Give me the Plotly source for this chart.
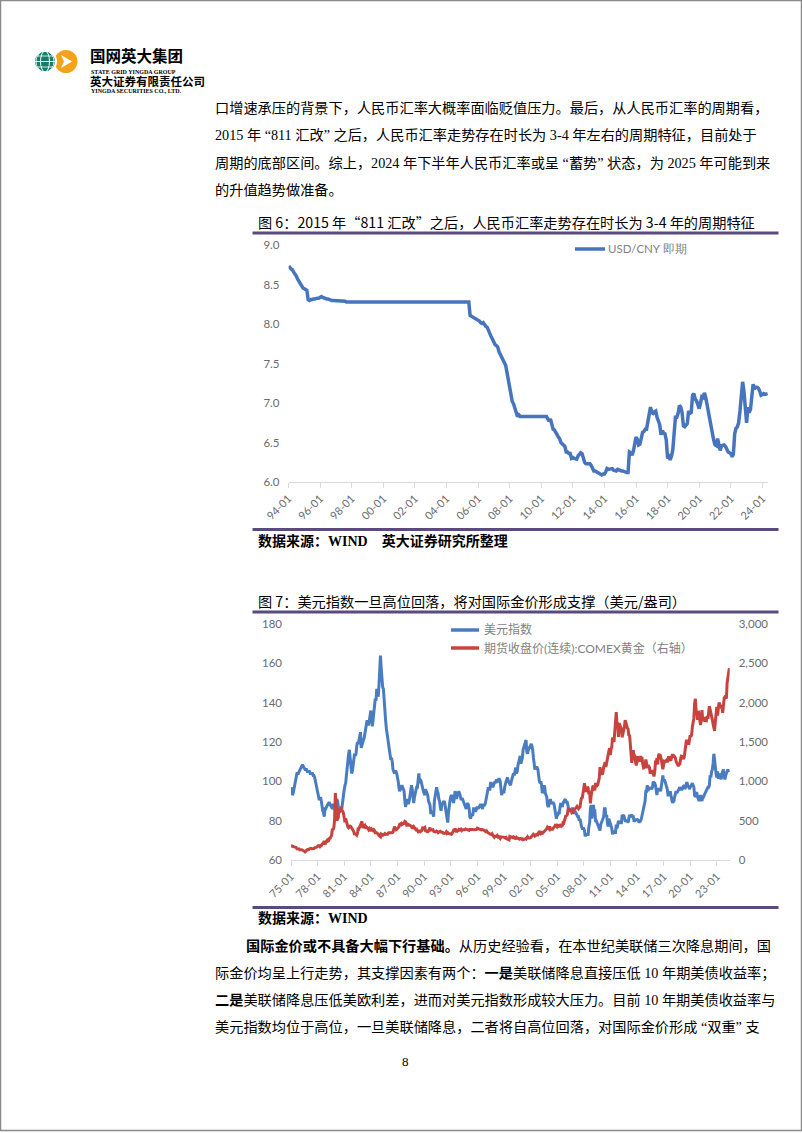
import plotly.graph_objects as go
import pandas as pd

W, H = 802, 1133

# ---------------- data ----------------
usdcny_start = "1994-01-01"
usdcny = [
    8.71, 8.72, 8.70, 8.69, 8.66, 8.64, 8.61, 8.57, 8.54, 8.52, 8.48, 8.46,  # 1994
    8.45, 8.44, 8.43, 8.31, 8.30, 8.31, 8.32, 8.32, 8.32, 8.33, 8.33, 8.33,  # 1995
    8.34, 8.35, 8.34, 8.33, 8.33, 8.32, 8.32, 8.31, 8.31, 8.30, 8.30, 8.30,  # 1996
    8.30, 8.29, 8.29, 8.29, 8.29, 8.29, 8.29, 8.29, 8.28, 8.28, 8.28, 8.28,  # 1997
    8.28, 8.28, 8.28, 8.28, 8.28, 8.28, 8.28, 8.28, 8.28, 8.28, 8.28, 8.28,  # 1998
    8.28, 8.28, 8.28, 8.28, 8.28, 8.28, 8.28, 8.28, 8.28, 8.28, 8.28, 8.28,  # 1999
    8.28, 8.28, 8.28, 8.28, 8.28, 8.28, 8.28, 8.28, 8.28, 8.28, 8.28, 8.28,  # 2000
    8.28, 8.28, 8.28, 8.28, 8.28, 8.28, 8.28, 8.28, 8.28, 8.28, 8.28, 8.28,  # 2001
    8.28, 8.28, 8.28, 8.28, 8.28, 8.28, 8.28, 8.28, 8.28, 8.28, 8.28, 8.28,  # 2002
    8.28, 8.28, 8.28, 8.28, 8.28, 8.28, 8.28, 8.28, 8.28, 8.28, 8.28, 8.28,  # 2003
    8.28, 8.28, 8.28, 8.28, 8.28, 8.28, 8.28, 8.28, 8.28, 8.28, 8.28, 8.28,  # 2004
    8.28, 8.28, 8.28, 8.28, 8.28, 8.28, 8.11, 8.10, 8.09, 8.08, 8.08, 8.07,  # 2005
    8.05, 8.04, 8.02, 8.01, 8.02, 7.99, 7.97, 7.96, 7.91, 7.88, 7.84, 7.81,  # 2006
    7.77, 7.74, 7.73, 7.71, 7.65, 7.62, 7.57, 7.56, 7.51, 7.48, 7.39, 7.30,  # 2007
    7.20, 7.12, 7.02, 6.99, 6.94, 6.86, 6.83, 6.85, 6.83, 6.83, 6.83, 6.84,  # 2008
    6.84, 6.84, 6.84, 6.83, 6.83, 6.83, 6.83, 6.83, 6.83, 6.83, 6.83, 6.83,  # 2009
    6.83, 6.83, 6.83, 6.83, 6.83, 6.80, 6.77, 6.80, 6.70, 6.67, 6.66, 6.62,  # 2010
    6.60, 6.57, 6.55, 6.50, 6.48, 6.47, 6.45, 6.38, 6.38, 6.36, 6.36, 6.30,  # 2011
    6.31, 6.30, 6.30, 6.29, 6.33, 6.36, 6.37, 6.36, 6.28, 6.25, 6.23, 6.23,  # 2012
    6.22, 6.23, 6.21, 6.17, 6.14, 6.14, 6.13, 6.12, 6.12, 6.10, 6.09, 6.10,  # 2013
    6.10, 6.13, 6.17, 6.16, 6.16, 6.16, 6.17, 6.15, 6.15, 6.14, 6.16, 6.15,  # 2014
    6.15, 6.14, 6.14, 6.13, 6.13, 6.12, 6.12, 6.38, 6.37, 6.34, 6.39, 6.48,  # 2015
    6.57, 6.54, 6.47, 6.48, 6.57, 6.63, 6.64, 6.67, 6.67, 6.77, 6.89, 6.95,  # 2016
    6.88, 6.87, 6.89, 6.90, 6.82, 6.78, 6.73, 6.60, 6.65, 6.62, 6.61, 6.53,  # 2017
    6.30, 6.32, 6.28, 6.33, 6.41, 6.62, 6.82, 6.82, 6.87, 6.97, 6.95, 6.88,  # 2018
    6.71, 6.70, 6.72, 6.74, 6.90, 6.87, 6.88, 7.10, 7.12, 7.05, 7.03, 6.97,  # 2019
    6.93, 7.00, 7.08, 7.07, 7.13, 7.07, 6.98, 6.86, 6.80, 6.69, 6.58, 6.53,  # 2020
    6.47, 6.46, 6.55, 6.48, 6.40, 6.46, 6.47, 6.47, 6.45, 6.40, 6.38, 6.37,  # 2021
    6.36, 6.32, 6.35, 6.61, 6.68, 6.70, 6.75, 6.90, 7.10, 7.27, 7.15, 6.90,  # 2022
    6.75, 6.95, 6.88, 6.92, 7.10, 7.24, 7.18, 7.20, 7.20, 7.19, 7.15, 7.10,  # 2023
    7.11, 7.12, 7.11, 7.12, 7.12,                                            # 2024
]

dxy_gold_start = "1975-01-01"
dxy = [
    97, 95, 93, 94, 96, 98, 101, 103, 104, 104, 104, 105,      # 1975
    106, 107, 107, 108, 108, 107, 107, 106, 106, 106, 105, 105,  # 1976
    105, 105, 104, 104, 104, 104, 103, 103, 102, 100, 99, 97,  # 1977
    94, 93, 91, 91, 92, 90, 87, 85, 84, 82, 86, 86,            # 1978
    87, 88, 88, 89, 89, 88, 87, 86, 86, 88, 88, 86,            # 1979
    85, 87, 91, 90, 86, 84, 85, 85, 85, 87, 91, 94,            # 1980
    96, 98, 99, 103, 108, 111, 114, 116, 110, 107, 104, 105,   # 1981
    108, 111, 114, 113, 114, 118, 120, 119, 121, 124, 125, 117,  # 1982
    119, 120, 121, 122, 124, 126, 128, 131, 129, 129, 131, 134,  # 1983
    136, 131, 128, 131, 135, 137, 142, 141, 147, 146, 143, 149,  # 1984
    155, 164, 158, 150, 148, 147, 140, 138, 131, 127, 124, 122,  # 1985
    120, 116, 113, 111, 112, 110, 106, 104, 104, 105, 105, 104,  # 1986
    100, 100, 97, 95, 96, 97, 98, 97, 96, 95, 90, 87,          # 1987
    89, 91, 89, 89, 90, 93, 96, 98, 96, 93, 89, 92,            # 1988
    94, 94, 97, 97, 102, 104, 99, 101, 100, 98, 97, 95,        # 1989
    94, 93, 96, 95, 94, 93, 90, 89, 88, 84, 84, 85,            # 1990
    83, 82, 90, 92, 94, 97, 95, 94, 91, 90, 87, 85,            # 1991
    88, 89, 90, 90, 89, 86, 83, 80, 79, 84, 89, 90,            # 1992
    92, 93, 92, 89, 89, 92, 95, 94, 91, 93, 94, 95,            # 1993
    94, 92, 91, 91, 91, 90, 89, 89, 88, 86, 88, 89,            # 1994
    88, 86, 82, 81, 83, 83, 83, 86, 86, 85, 85, 86,            # 1995
    87, 86, 87, 88, 88, 88, 86, 86, 88, 88, 88, 89,            # 1996
    91, 94, 95, 97, 96, 96, 99, 99, 98, 97, 98, 100,           # 1997
    100, 99, 101, 100, 100, 101, 101, 100, 96, 93, 95, 94,     # 1998
    94, 97, 99, 100, 101, 102, 100, 99, 98, 98, 100, 101,      # 1999
    102, 104, 103, 106, 107, 104, 105, 108, 110, 113, 113, 109,  # 2000
    111, 112, 116, 117, 119, 120, 121, 115, 114, 116, 117, 117,  # 2001
    119, 119, 118, 116, 112, 108, 106, 107, 107, 107, 106, 102,  # 2002
    100, 99, 100, 98, 94, 95, 96, 98, 94, 93, 92, 88,          # 2003
    87, 88, 89, 91, 89, 89, 89, 89, 88, 86, 83, 81,            # 2004
    83, 83, 84, 84, 87, 89, 88, 87, 89, 90, 91, 91,            # 2005
    89, 90, 89, 86, 85, 86, 85, 85, 86, 86, 84, 84,            # 2006
    85, 84, 83, 82, 82, 82, 80, 81, 78, 77, 76, 76,            # 2007
    76, 75, 72, 73, 73, 73, 73, 77, 79, 86, 88, 81,            # 2008
    86, 88, 85, 85, 80, 80, 79, 78, 77, 76, 75, 78,            # 2009
    79, 80, 81, 82, 86, 86, 82, 83, 79, 77, 81, 80,            # 2010
    78, 77, 76, 73, 75, 74, 74, 74, 78, 76, 78, 80,            # 2011
    79, 79, 79, 79, 83, 82, 83, 81, 80, 80, 80, 80,            # 2012
    79, 82, 83, 82, 83, 83, 82, 82, 80, 80, 81, 80,            # 2013
    81, 80, 80, 79, 80, 80, 81, 83, 86, 87, 88, 90,            # 2014
    95, 95, 98, 95, 97, 96, 97, 96, 96, 97, 100, 99,           # 2015
    99, 98, 95, 93, 96, 96, 96, 96, 95, 98, 101, 103,          # 2016
    100, 101, 100, 99, 97, 96, 93, 93, 93, 95, 93, 92,         # 2017
    89, 90, 90, 92, 94, 95, 94, 95, 95, 97, 97, 96,            # 2018
    96, 96, 97, 98, 98, 96, 98, 99, 99, 97, 98, 96,            # 2019
    97, 98, 99, 99, 98, 97, 93, 92, 94, 94, 92, 90,            # 2020
    90, 91, 93, 91, 90, 92, 92, 93, 94, 94, 96, 96,            # 2021
    97, 97, 98, 103, 102, 105, 106, 109, 114, 111, 106, 104,   # 2022
    102, 105, 102, 102, 104, 103, 101, 104, 106, 106, 103, 101,  # 2023
    103, 104, 104, 106, 105, 106,                              # 2024
]

gold = [
    178, 180, 178, 170, 166, 165, 165, 160, 142, 143, 139, 140,  # 1975
    130, 133, 129, 128, 126, 124, 113, 104, 116, 123, 131, 134,  # 1976
    132, 142, 149, 148, 144, 142, 145, 146, 154, 162, 161, 165,  # 1977
    175, 182, 180, 170, 184, 183, 200, 208, 217, 243, 198, 226,  # 1978
    233, 251, 240, 245, 275, 278, 295, 315, 397, 382, 415, 512,  # 1979
    850, 640, 500, 520, 540, 650, 615, 630, 680, 630, 620, 590,  # 1980
    500, 480, 530, 480, 475, 420, 410, 425, 430, 425, 410, 400,  # 1981
    385, 360, 320, 340, 325, 315, 340, 410, 400, 420, 440, 450,  # 1982
    490, 410, 415, 430, 440, 415, 420, 415, 400, 385, 400, 385,  # 1983
    370, 395, 390, 375, 385, 375, 345, 345, 345, 335, 330, 310,  # 1984
    305, 295, 330, 320, 315, 318, 325, 335, 325, 325, 325, 330,  # 1985
    345, 340, 345, 345, 345, 345, 355, 385, 425, 400, 385, 390,  # 1986
    405, 405, 420, 455, 460, 450, 465, 455, 460, 465, 490, 485,  # 1987
    455, 430, 455, 450, 450, 440, 440, 430, 400, 410, 425, 410,  # 1988
    395, 385, 390, 380, 360, 370, 370, 360, 365, 375, 405, 400,  # 1989
    410, 415, 370, 370, 365, 350, 370, 395, 410, 380, 385, 390,  # 1990
    385, 365, 355, 358, 360, 368, 362, 348, 355, 358, 365, 355,  # 1991
    355, 353, 341, 337, 337, 343, 357, 340, 349, 339, 334, 333,  # 1992
    330, 328, 338, 355, 378, 375, 400, 375, 355, 370, 372, 390,  # 1993
    380, 382, 390, 376, 387, 386, 385, 385, 395, 390, 385, 383,  # 1994
    378, 377, 391, 389, 385, 385, 385, 385, 385, 384, 388, 388,  # 1995
    405, 400, 397, 393, 390, 383, 388, 388, 380, 380, 372, 370,  # 1996
    346, 364, 350, 341, 344, 336, 327, 325, 333, 312, 296, 290,  # 1997
    304, 297, 300, 310, 294, 298, 289, 274, 294, 294, 294, 289,  # 1998
    289, 288, 280, 286, 268, 262, 255, 255, 300, 300, 292, 290,  # 1999
    284, 294, 278, 275, 274, 288, 279, 278, 274, 265, 270, 274,  # 2000
    266, 268, 258, 264, 268, 270, 266, 274, 294, 279, 275, 279,  # 2001
    282, 297, 302, 308, 327, 318, 305, 313, 324, 318, 318, 347,  # 2002
    368, 348, 334, 339, 364, 347, 356, 376, 388, 385, 398, 417,  # 2003
    400, 397, 427, 388, 395, 394, 392, 409, 416, 429, 453, 438,  # 2004
    423, 437, 429, 436, 418, 437, 430, 437, 473, 470, 495, 518,  # 2005
    569, 557, 585, 654, 645, 616, 634, 627, 600, 606, 648, 636,  # 2006
    652, 672, 669, 681, 660, 652, 668, 673, 743, 794, 783, 838,  # 2007
    926, 975, 920, 867, 888, 930, 915, 834, 875, 720, 816, 884,  # 2008
    928, 943, 916, 884, 980, 927, 955, 956, 1001, 1040, 1180, 1097,  # 2009
    1081, 1119, 1113, 1180, 1214, 1244, 1181, 1248, 1307, 1359, 1386, 1421,  # 2010
    1333, 1410, 1439, 1556, 1536, 1500, 1628, 1829, 1880, 1725, 1747, 1566,  # 2011
    1740, 1710, 1669, 1664, 1560, 1604, 1615, 1692, 1776, 1719, 1713, 1676,  # 2012
    1663, 1578, 1595, 1476, 1393, 1234, 1313, 1396, 1326, 1324, 1253, 1202,  # 2013
    1240, 1321, 1284, 1295, 1250, 1322, 1282, 1287, 1210, 1171, 1175, 1199,  # 2014
    1278, 1212, 1183, 1184, 1190, 1172, 1095, 1132, 1114, 1142, 1065, 1061,  # 2015
    1116, 1238, 1234, 1293, 1215, 1321, 1350, 1309, 1316, 1273, 1173, 1152,  # 2016
    1211, 1254, 1249, 1267, 1268, 1242, 1268, 1318, 1284, 1271, 1275, 1309,  # 2017
    1345, 1318, 1325, 1315, 1299, 1253, 1233, 1206, 1192, 1215, 1222, 1282,  # 2018
    1319, 1316, 1298, 1284, 1311, 1413, 1437, 1529, 1472, 1514, 1464, 1523,  # 2019
    1587, 1567, 1596, 1694, 1751, 1800, 1986, 2050, 1895, 1879, 1780, 1895,  # 2020
    1850, 1734, 1715, 1769, 1905, 1771, 1817, 1818, 1757, 1784, 1776, 1829,  # 2021
    1796, 1909, 1954, 1911, 1848, 1817, 1782, 1726, 1672, 1640, 1759, 1826,  # 2022
    1945, 1836, 1986, 1999, 1982, 1929, 1970, 1940, 1870, 1996, 2058, 2072,  # 2023
    2067, 2054, 2254, 2303, 2350, 2440,                                      # 2024
]

series1_name = "USD/CNY 即期"
series2_name = "美元指数"
series3_name = "期货收盘价(连续):COMEX黄金（右轴）"

title1 = "图 6：2015 年“811 汇改”之后，人民币汇率走势存在时长为 3-4 年的周期特征"
title2 = "图 7：美元指数一旦高位回落，将对国际金价形成支撑（美元/盎司）"
source1 = "<b>数据来源：WIND　英大证券研究所整理</b>"
source2 = "<b>数据来源：WIND</b>"

para1 = [
    "口增速承压的背景下，人民币汇率大概率面临贬值压力。最后，从人民币汇率的周期看，",
    "2015 年 “811 汇改” 之后，人民币汇率走势存在时长为 3-4 年左右的周期特征，目前处于",
    "周期的底部区间。综上，2024 年下半年人民币汇率或呈 “蓄势” 状态，为 2025 年可能到来",
    "的升值趋势做准备。",
]
para2 = [
    "<b>国际金价或不具备大幅下行基础。</b>从历史经验看，在本世纪美联储三次降息期间，国",
    "际金价均呈上行走势，其支撑因素有两个：<b>一是</b>美联储降息直接压低 10 年期美债收益率；",
    "<b>二是</b>美联储降息压低美欧利差，进而对美元指数形成较大压力。目前 10 年期美债收益率与",
    "美元指数均位于高位，一旦美联储降息，二者将自高位回落，对国际金价形成 “双重” 支",
]

dates1 = pd.date_range(usdcny_start, periods=len(usdcny), freq="MS")
dates2 = pd.date_range(dxy_gold_start, periods=len(dxy), freq="MS")

# ---------------- styling ----------------
BLUE1 = "#4675BD"
BLUE2 = "#4A7CC0"
RED = "#C8423E"
PURPLE = "#5A4A7E"
TICKC = "#6B6B6B"
AXC = "#D9D9D9"
BODY = "Liberation Serif, Noto Sans CJK SC, serif"
SANS = "Noto Sans CJK SC, sans-serif"
TICKF = "Lato, Liberation Sans, sans-serif"


def px(x):
    return x / W


def py(y):
    return 1 - y / H


fig = go.Figure()
fig.add_trace(go.Scatter(x=dates1, y=usdcny, mode="lines", name=series1_name,
                         line=dict(color=BLUE1, width=3.5), xaxis="x", yaxis="y"))
fig.add_trace(go.Scatter(x=dates2, y=dxy, mode="lines", name=series2_name,
                         line=dict(color=BLUE2, width=3), xaxis="x2", yaxis="y2"))
fig.add_trace(go.Scatter(x=dates2, y=gold, mode="lines", name=series3_name,
                         line=dict(color=RED, width=3), xaxis="x2", yaxis="y3"))

xcommon = dict(type="date", tickformat="%y-%m", tickangle=-45, showline=True,
               linecolor=AXC, linewidth=1, ticks="outside", ticklen=5, tickcolor=AXC,
               tickfont=dict(family=TICKF, size=11, color=TICKC), showgrid=False,
               zeroline=False, fixedrange=True, automargin=False)
ycommon = dict(showgrid=False, zeroline=False, showline=False, ticks="",
               tickfont=dict(family=TICKF, size=11.5, color=TICKC), ticklabelstandoff=8,
               fixedrange=True, automargin=False)

fig.update_layout(
    width=W, height=H, margin=dict(l=0, r=0, t=0, b=0, pad=0, autoexpand=False),
    paper_bgcolor="white", plot_bgcolor="rgba(0,0,0,0)", showlegend=False,
    xaxis=dict(domain=[px(288.5), px(768)], range=["1994-01-01", "2024-05-10"],
               dtick="M24", tick0="1994-01-01", anchor="y", **xcommon),
    yaxis=dict(domain=[py(482), py(245.3)], range=[6, 9], dtick=0.5, tickformat=".1f",
               anchor="x", **ycommon),
    xaxis2=dict(domain=[px(291), px(729.7)], range=["1975-01-01", "2024-06-15"],
                dtick="M36", tick0="1975-01-01", anchor="y2", **xcommon),
    yaxis2=dict(domain=[py(860), py(624)], range=[60, 180], dtick=20, anchor="x2", **ycommon),
    yaxis3=dict(overlaying="y2", side="right", range=[0, 3000], dtick=500, tickformat=",",
                anchor="x2", **ycommon),
)

shapes = []


def hline(x0, x1, y, color, width):
    shapes.append(dict(type="line", xref="paper", yref="paper", x0=px(x0), x1=px(x1),
                       y0=py(y), y1=py(y), line=dict(color=color, width=width)))


# page border
shapes.append(dict(type="rect", xref="paper", yref="paper", x0=px(0.5), x1=px(801.5),
                   y0=py(1130.5), y1=py(0.5), line=dict(color="#8A8A8A", width=1.5)))

# purple rules
hline(252.5, 778.5, 233, PURPLE, 3)
hline(252.5, 778.5, 529.5, PURPLE, 3)
hline(252.5, 778.5, 612, PURPLE, 3)
hline(252.5, 778.5, 907.5, PURPLE, 3)

# legends (drawn)
hline(575, 605, 249, BLUE1, 3.5)
hline(451, 479, 630, BLUE2, 3.5)
hline(451, 479, 648, RED, 3.5)


# logo
def circ(cx, cy, r, fill, line_color=None, lw=0):
    shapes.append(dict(type="circle", xref="paper", yref="paper",
                       x0=px(cx - r), x1=px(cx + r), y0=py(cy + r), y1=py(cy - r),
                       fillcolor=fill, line=dict(color=line_color or fill, width=lw)))


circ(66, 61.5, 11.5, "#F4A41C")
shapes.append(dict(type="path", xref="paper", yref="paper",
                   path=f"M {px(61)} {py(55)} L {px(72)} {py(61.5)} L {px(61)} {py(68)} L {px(64)} {py(61.5)} Z",
                   fillcolor="white", line=dict(color="white", width=0)))
circ(45, 61.5, 11, "#137E6B", "white", 2)
shapes.append(dict(type="circle", xref="paper", yref="paper", x0=px(40.5), x1=px(49.5),
                   y0=py(72), y1=py(51), line=dict(color="white", width=1)))
shapes.append(dict(type="circle", xref="paper", yref="paper", x0=px(36), x1=px(54),
                   y0=py(72), y1=py(51), line=dict(color="white", width=0.8)))
hline(35, 55, 61.5, "white", 1)
hline(37, 53, 56, "white", 0.8)
hline(37, 53, 67, "white", 0.8)

fig.update_layout(shapes=shapes)


def text(x, y, s, size=14.2, family=BODY, color="#000000", anchor="left", yanchor="middle"):
    fig.add_annotation(x=px(x), y=py(y), xref="paper", yref="paper", text=s,
                       showarrow=False, xanchor=anchor, yanchor=yanchor,
                       font=dict(size=size, family=family, color=color), borderpad=0)


# logo text
text(89, 67, "<b>国网英大集团</b>", size=15.5, family=SANS, yanchor="bottom")
text(90, 67.5, "<b>STATE GRID YINGDA GROUP</b>", size=6, family=BODY, yanchor="top")
text(89, 81, "<b>英大证券有限责任公司</b>", size=11.5, family=SANS)
text(90, 91.5, "<b>YINGDA SECURITIES CO., LTD.</b>", size=6, family=BODY)

# paragraphs
for i, line in enumerate(para1):
    text(214, 108 + i * 27.3, line)
text(245, 946, para2[0])
for i, line in enumerate(para2[1:]):
    text(214, 973 + i * 27.2, line)
text(401, 1061, "8", size=13)

# chart titles and sources
text(257, 222, title1, size=14.2, family=SANS)
text(257, 601, title2, size=14.2, family=SANS)
text(257, 541, source1, size=14, family=BODY)
text(257, 918, source2, size=14, family=BODY)

# legend labels
text(607, 249, series1_name, size=11.5, family=TICKF, color="#7F7F7F")
text(483, 630, series2_name, size=12, family=BODY, color="#7F7F7F")
text(483, 648, series3_name, size=12, family="Lato, Noto Sans CJK SC, sans-serif", color="#7F7F7F")

fig.write_html("out.html", config={"displayModeBar": False})
